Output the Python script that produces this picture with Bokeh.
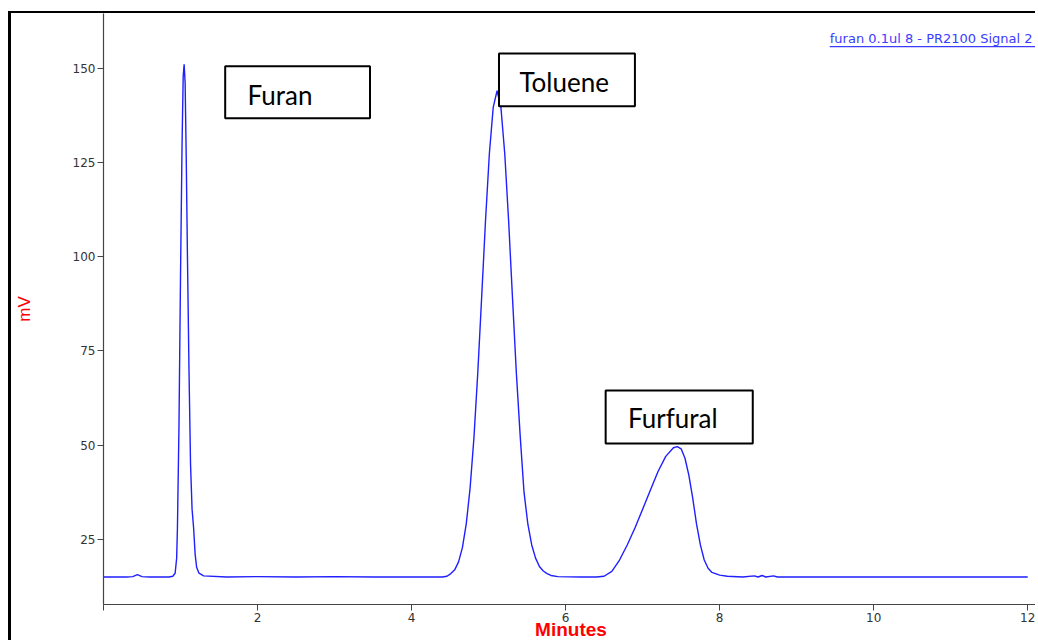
from bokeh.plotting import figure
from bokeh.models import Range1d, FixedTicker, BoxAnnotation, Label
from bokeh.embed import file_html
from bokeh.resources import INLINE

# Chromatogram trace (time in minutes, signal in mV)
times = [0.0, 0.3, 0.38, 0.44, 0.5, 0.6, 0.85, 0.90, 0.93, 0.95, 0.96, 0.98, 1.00,
         1.02, 1.035, 1.047, 1.06, 1.075, 1.09, 1.11, 1.13, 1.15, 1.17, 1.19, 1.21,
         1.24, 1.3, 1.6, 2.0, 2.5, 3.0, 3.5, 4.0, 4.4,
         4.46, 4.51, 4.56, 4.61, 4.66, 4.71, 4.76, 4.81, 4.86, 4.91, 4.96, 5.01,
         5.06, 5.11, 5.16, 5.21, 5.26, 5.31, 5.36, 5.41, 5.46, 5.51, 5.56, 5.61,
         5.66, 5.71, 5.76, 5.81, 5.9, 6.2, 6.4,
         6.5, 6.6, 6.7, 6.8, 6.9, 7.0, 7.1, 7.2, 7.3, 7.4, 7.45, 7.5, 7.55, 7.6,
         7.65, 7.7, 7.75, 7.8, 7.85, 7.9, 8.0, 8.1, 8.3,
         8.45, 8.5, 8.55, 8.6, 8.7, 8.75, 9.0, 9.5, 10.5, 11.5, 12.0]
mv = [15.0, 15.0, 15.1, 15.6, 15.1, 15.0, 15.0, 15.2, 16.0, 20.0, 28.0, 55.0, 95.0,
      130.0, 148.0, 151.0, 146.0, 125.0, 100.0, 70.0, 45.0, 33.0, 28.0, 21.0, 17.5,
      16.0, 15.3, 15.0, 15.1, 15.0, 15.1, 15.0, 15.0, 15.0,
      15.2, 15.9, 16.9, 19.0, 22.8, 29.1, 38.6, 52.0, 69.3, 89.2, 109.5, 127.3,
      139.6, 144.0, 139.6, 127.3, 109.5, 89.2, 69.3, 52.5, 37.5, 29.0, 23.5, 20.0,
      17.8, 16.6, 15.9, 15.4, 15.1, 15.0, 15.0,
      15.2, 16.5, 19.5, 23.5, 28.0, 33.0, 38.0, 43.0, 47.0, 49.3, 49.6, 49.0, 46.5, 42.0,
      36.0, 29.0, 23.5, 19.5, 17.3, 16.2, 15.5, 15.2, 15.0,
      15.3, 15.0, 15.4, 15.0, 15.3, 15.0, 15.0, 15.0, 15.0, 15.0, 15.0]

x_ticks = [0, 2, 4, 6, 8, 10, 12]
y_ticks = [25, 50, 75, 100, 125, 150]

peak_names = ["Furan", "Toluene", "Furfural"]

p = figure(width=1027, height=629, output_backend="svg", toolbar_location=None,
           x_range=Range1d(0, 12.14), y_range=Range1d(7.7, 164.5),
           min_border_left=91, min_border_right=0, min_border_top=0,
           min_border_bottom=38)
p.styles = {"margin-left": "8px", "margin-top": "11px",
            "border-left": "3px solid black", "border-top": "2px solid black"}
p.grid.visible = False
p.outline_line_color = None
p.background_fill_color = "white"
p.border_fill_color = "white"

p.line(times, mv, line_color="#1f1fff", line_width=1.4)

for ax in (p.xaxis[0], p.yaxis[0]):
    ax.axis_line_color = "#444444"
    ax.axis_line_width = 1.2
    ax.major_tick_line_color = "#444444"
    ax.major_tick_in = 0
    ax.major_tick_out = 6
    ax.minor_tick_line_color = None
    ax.major_label_text_font = "DejaVu Sans"
    ax.major_label_text_font_size = "12px"
    ax.major_label_text_color = "#333333"
    ax.major_label_standoff = 2

p.xaxis.ticker = FixedTicker(ticks=x_ticks)
p.xaxis.major_label_overrides = {0: ""}
p.xaxis.axis_label = "Minutes"
p.xaxis.axis_label_text_color = "red"
p.xaxis.axis_label_text_font = "Liberation Sans"
p.xaxis.axis_label_text_font_style = "bold"
p.xaxis.axis_label_text_font_size = "19px"
p.xaxis.axis_label_standoff = -6

p.yaxis.ticker = FixedTicker(ticks=y_ticks)
p.yaxis.axis_label = "mV"
p.yaxis.axis_label_text_color = "red"
p.yaxis.axis_label_text_font = "Liberation Sans"
p.yaxis.axis_label_text_font_style = "normal"
p.yaxis.axis_label_text_font_size = "17px"
p.yaxis.axis_label_standoff = 36

# annotation boxes
boxes = [(1.58, 3.46, 136.7, 150.5, 1.87, 142.8),
         (5.135, 6.90, 139.9, 153.9, 5.40, 146.2),
         (6.52, 8.43, 50.4, 64.5, 6.81, 57.1)]
for name, (l, r, b, t, tx, ty) in zip(peak_names, boxes):
    p.add_layout(BoxAnnotation(left=l, right=r, bottom=b, top=t,
                               fill_color="white", fill_alpha=1.0,
                               line_color="black", line_width=2, line_alpha=1.0))
    p.add_layout(Label(x=tx, y=ty, text=name, text_font="Lato",
                       text_font_size="26px", text_color="black",
                       text_baseline="middle", text_align="left"))

# trace legend (underlined link-style text)
p.add_layout(Label(x=9.43, y=157.9, text="furan 0.1ul 8 - PR2100 Signal 2",
                   text_font="DejaVu Sans", text_font_size="13px",
                   text_color="#3c3cff", text_baseline="middle", text_align="left"))
p.add_layout(BoxAnnotation(left=9.43, right=12.11, bottom=155.55, top=155.85,
                           fill_color="#3c3cff", fill_alpha=1.0, line_alpha=0))

open("out.html", "w").write(file_html(p, INLINE))
